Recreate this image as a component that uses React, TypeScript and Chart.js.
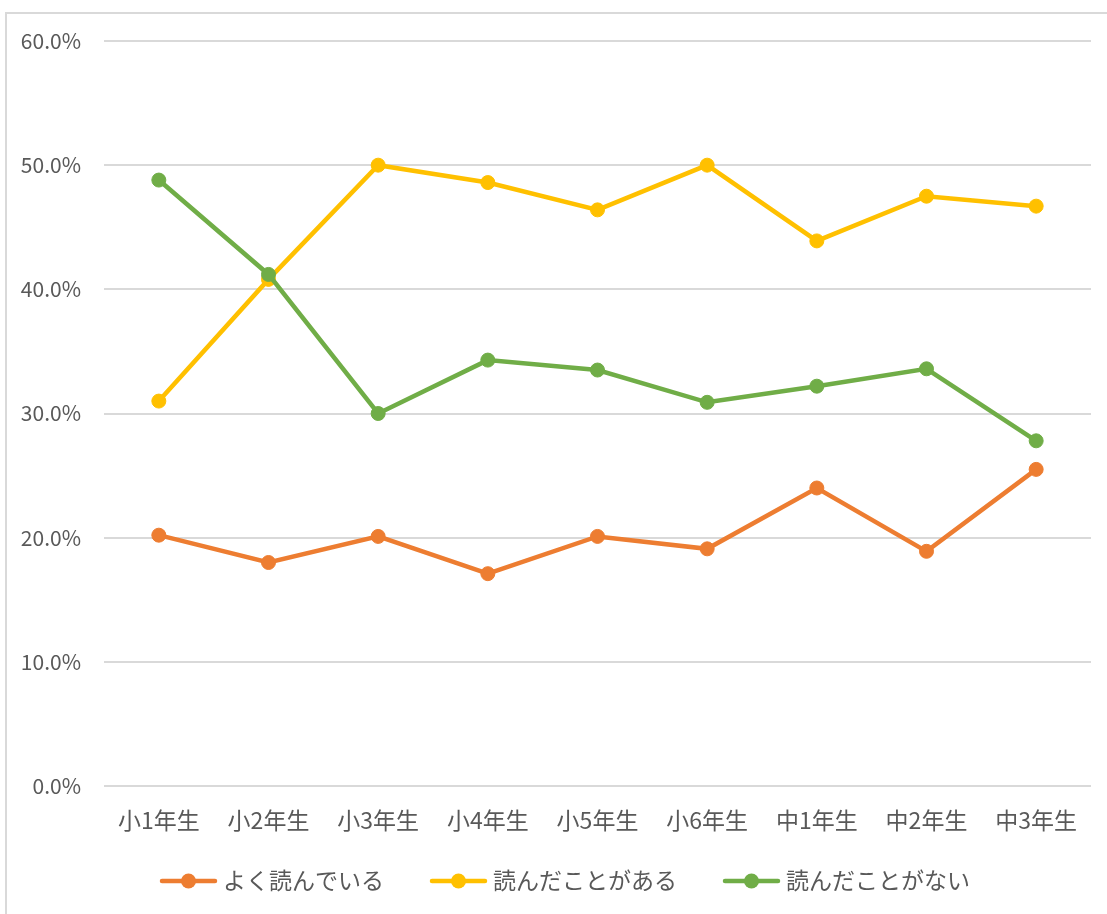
import React, { useEffect, useRef } from "react";
import { Chart, registerables } from "chart.js";

Chart.register(...registerables);

const categories = ["小1年生", "小2年生", "小3年生", "小4年生", "小5年生", "小6年生", "中1年生", "中2年生", "中3年生"];
const seriesNames = ["よく読んでいる", "読んだことがある", "読んだことがない"];
const yokuYonderu = [20.2, 18.0, 20.1, 17.1, 20.1, 19.1, 24.0, 18.9, 25.5];
const yondaKotoGaAru = [31.0, 40.8, 50.0, 48.6, 46.4, 50.0, 43.9, 47.5, 46.7];
const yondaKotoGaNai = [48.8, 41.2, 30.0, 34.3, 33.5, 30.9, 32.2, 33.6, 27.8];
const yTickValues = [0, 10, 20, 30, 40, 50, 60];
const seriesColors = ["#ED7D31", "#FFC000", "#70AD47"];

const FONT = '"Noto Sans CJK JP", "Noto Sans", sans-serif';
const TEXT_COLOR = "#595959";

const customLegend = {
  id: "customLegend",
  afterDraw(chart: any) {
    const ctx = chart.ctx;
    ctx.save();
    ctx.font = `23px ${FONT}`;
    ctx.textBaseline = "middle";
    ctx.textAlign = "left";
    const sampleW = 57;
    const gapText = 6;
    const gapItem = 46;
    const widths = seriesNames.map((n) => ctx.measureText(n).width);
    const total = widths.reduce((a, w) => a + sampleW + gapText + w, 0) + gapItem * (seriesNames.length - 1);
    let x = 565 - total / 2;
    const y = 881;
    seriesNames.forEach((name, i) => {
      ctx.strokeStyle = seriesColors[i];
      ctx.fillStyle = seriesColors[i];
      ctx.lineWidth = 4.5;
      ctx.lineCap = "round";
      ctx.beginPath();
      ctx.moveTo(x + 2, y);
      ctx.lineTo(x + sampleW - 2, y);
      ctx.stroke();
      ctx.beginPath();
      ctx.arc(x + sampleW / 2, y, 7.5, 0, Math.PI * 2);
      ctx.fill();
      ctx.fillStyle = TEXT_COLOR;
      ctx.fillText(name, x + sampleW + gapText, y - 1);
      x += sampleW + gapText + widths[i] + gapItem;
    });
    ctx.restore();
  },
};

export default function App() {
  const canvasRef = useRef<HTMLCanvasElement | null>(null);

  useEffect(() => {
    document.body.style.margin = "0";
    document.body.style.overflow = "hidden";
    const canvas = canvasRef.current;
    if (!canvas) return;
    const mk = (label: string, data: number[], color: string, order: number) => ({
      label,
      data,
      borderColor: color,
      backgroundColor: color,
      borderWidth: 4.5,
      pointRadius: 7,
      pointBorderWidth: 1,
      pointBackgroundColor: color,
      pointBorderColor: color,
      pointHoverRadius: 7,
      tension: 0,
      order,
    });
    const chart = new Chart(canvas, {
      type: "line",
      data: {
        labels: categories,
        datasets: [
          mk(seriesNames[0], yokuYonderu, seriesColors[0], 2),
          mk(seriesNames[1], yondaKotoGaAru, seriesColors[1], 1),
          mk(seriesNames[2], yondaKotoGaNai, seriesColors[2], 0),
        ],
      },
      options: {
        responsive: false,
        animation: false,
        layout: { padding: { top: 41, right: 16, bottom: 60, left: 0 } },
        plugins: {
          legend: { display: false },
          tooltip: { enabled: false },
          title: { display: false },
        },
        scales: {
          x: {
            offset: true,
            grid: { display: false, drawTicks: false },
            border: { display: false },
            ticks: {
              color: TEXT_COLOR,
              font: { family: FONT, size: 23 },
              padding: 20,
              maxRotation: 0,
              autoSkip: false,
            },
            afterFit: (s: any) => {
              s.height = 68;
            },
          },
          y: {
            min: 0,
            max: 60,
            afterBuildTicks: (s: any) => {
              s.ticks = yTickValues.map((v) => ({ value: v }));
            },
            grid: { color: "#D9D9D9", lineWidth: 2, drawTicks: false },
            border: { display: false },
            ticks: {
              color: TEXT_COLOR,
              font: { family: FONT, size: 21 },
              padding: 23,
              callback: (v: any) => Number(v).toFixed(1) + "%",
            },
            afterFit: (s: any) => {
              s.width = 104;
            },
          },
        },
      },
      plugins: [customLegend],
    });
    return () => chart.destroy();
  }, []);

  return (
    <>
      <div
        style={{
          position: "fixed",
          left: 5,
          top: 12,
          width: 1102,
          height: 902,
          boxSizing: "border-box",
          borderLeft: "2px solid #D9D9D9",
          borderTop: "2px solid #D9D9D9",
          background: "#fff",
        }}
      />
      <canvas
        ref={canvasRef}
        width={1107}
        height={914}
        style={{ position: "fixed", left: 0, top: 0, width: 1107, height: 914 }}
      />
    </>
  );
}
